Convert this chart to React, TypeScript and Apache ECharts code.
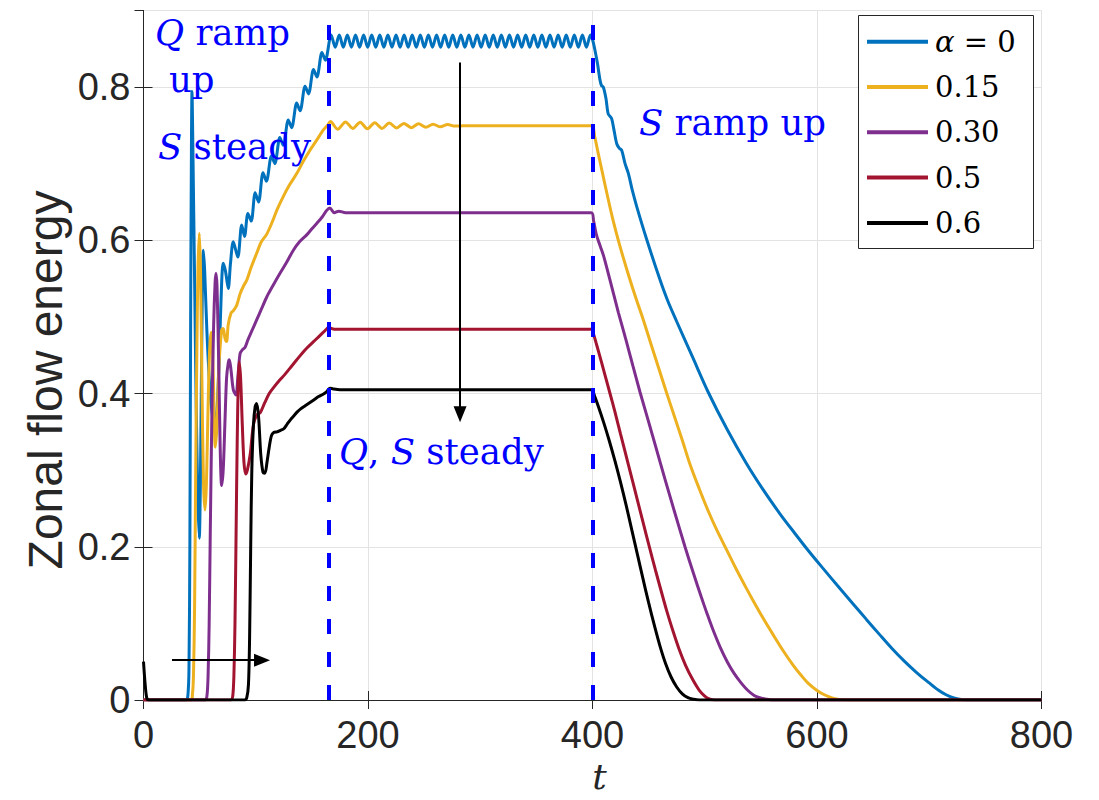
import React, { useEffect, useRef } from 'react';
import * as echarts from 'echarts';

// ---------- data ----------
const SERIES_NAMES = ['α = 0', '0.15', '0.30', '0.5', '0.6'];
const SERIES_COLORS = ['#0072BD', '#EDB120', '#7E2F8E', '#A2142F', '#000000'];
const X_MIN = 0;
const X_MAX = 800;
const X_STEP = 200;
const Y_MIN = 0;
const Y_MAX = 0.9;
const Y_STEP = 0.2;
const PHASE_LINES = [165, 400];

const alpha0: [number, number][] = [
  [0, 0], [38, 0], [39.5, 0.005], [40.5, 0.04], [41.3, 0.2], [42, 0.5], [42.7, 0.72], [43.2, 0.794],
  [44, 0.72], [45.5, 0.55], [47, 0.38], [48.5, 0.26], [49.7, 0.211], [50.8, 0.3], [52, 0.48], [53.3, 0.587],
  [54.5, 0.56], [56.5, 0.48], [59, 0.41], [61.5, 0.37], [63.5, 0.36], [65.5, 0.38], [67.5, 0.45], [69.5, 0.54],
  [71, 0.57], [73, 0.56], [75.5, 0.537], [77.5, 0.57], [80, 0.598], [84, 0.578], [87.5, 0.62], [90, 0.605],
  [93, 0.635], [96, 0.625], [99.5, 0.662], [102.5, 0.65], [106.5, 0.688], [109.5, 0.677], [114, 0.71], [117, 0.7],
  [121.5, 0.734], [124.5, 0.724], [129, 0.757], [132, 0.747], [136.5, 0.779], [139.5, 0.769], [144, 0.801],
  [147, 0.791], [151.5, 0.823], [154.5, 0.813], [159, 0.845], [162, 0.835],
  [167.2, 0.868], [170.8, 0.852], [174.4, 0.868], [178.0, 0.852], [181.6, 0.868], [185.3, 0.852], [188.9, 0.868],
  [192.5, 0.852], [196.1, 0.868], [199.7, 0.852], [203.3, 0.868], [206.9, 0.852], [210.5, 0.868], [214.1, 0.852],
  [217.7, 0.868], [221.4, 0.852], [225.0, 0.868], [228.6, 0.852], [232.2, 0.868], [235.8, 0.852], [239.4, 0.868],
  [243.0, 0.852], [246.6, 0.868], [250.2, 0.852], [253.8, 0.868], [257.5, 0.852], [261.1, 0.868], [264.7, 0.852],
  [268.3, 0.868], [271.9, 0.852], [275.5, 0.868], [279.1, 0.852], [282.7, 0.868], [286.3, 0.852], [289.9, 0.868],
  [293.6, 0.852], [297.2, 0.868], [300.8, 0.852], [304.4, 0.868], [308.0, 0.852], [311.6, 0.868], [315.2, 0.852],
  [318.8, 0.868], [322.4, 0.852], [326.0, 0.868], [329.7, 0.852], [333.3, 0.868], [336.9, 0.852], [340.5, 0.868],
  [344.1, 0.852], [347.7, 0.868], [351.3, 0.852], [354.9, 0.868], [358.5, 0.852], [362.1, 0.868], [365.8, 0.852],
  [369.4, 0.868], [373.0, 0.852], [376.6, 0.868], [380.2, 0.852], [383.8, 0.868], [387.4, 0.852], [391.0, 0.868],
  [394.6, 0.852], [398.2, 0.868],
  [400, 0.862], [402.2, 0.848], [404.5, 0.83], [406.7, 0.809], [408, 0.802], [409.6, 0.8], [412, 0.785],
  [414, 0.765], [417, 0.759], [419, 0.745], [421.6, 0.726], [424, 0.72], [426, 0.7175], [429, 0.7], [432, 0.687],
  [435.5, 0.665], [439.4, 0.644], [448.3, 0.601], [460, 0.549], [467, 0.521], [475, 0.494], [489, 0.448],
  [503, 0.402], [520, 0.353], [537, 0.309], [552, 0.2745], [567, 0.243], [580, 0.218], [592, 0.1955],
  [605, 0.1724], [618, 0.1497], [632, 0.1256], [644, 0.1052], [656, 0.085], [667, 0.0669], [678, 0.0504],
  [689, 0.0355], [700, 0.0223], [708, 0.0131], [715, 0.0068], [722, 0.0026], [730, 0.0004], [738, 0], [800, 0],
];

const alpha015: [number, number][] = [
  [0, 0], [42.5, 0], [43.5, 0.005], [44.5, 0.03], [45.5, 0.12], [46.5, 0.3], [47.5, 0.45], [48.5, 0.56],
  [49.7, 0.609], [50.8, 0.56], [52, 0.42], [53.5, 0.28], [54.8, 0.248], [56, 0.28], [57.5, 0.38], [59, 0.46],
  [60.5, 0.48], [62, 0.43], [64, 0.33], [65.5, 0.36], [67, 0.43], [69.6, 0.483], [71, 0.485], [72.6, 0.472],
  [74, 0.468], [75.5, 0.49], [78, 0.505], [80, 0.508], [83, 0.515], [86, 0.53], [89, 0.54], [92, 0.548],
  [96, 0.565], [100.8, 0.583], [105, 0.598], [109.8, 0.608], [115, 0.625], [119, 0.64], [124.5, 0.657],
  [130, 0.672], [136.5, 0.687], [142, 0.702], [148.3, 0.7175], [154, 0.73], [160.2, 0.744], [164, 0.75],
  [166.5, 0.755], [173, 0.745], [180, 0.7545], [186.5, 0.746], [193, 0.754], [199.5, 0.7455], [206, 0.7535],
  [212.5, 0.746], [219, 0.753], [225.5, 0.7465], [232, 0.7525], [238.5, 0.747], [245, 0.752], [251.5, 0.7475],
  [258, 0.7515], [264.5, 0.748], [271, 0.751], [277.5, 0.749], [285, 0.7495], [399, 0.7495],
  [402, 0.735], [405, 0.714], [409, 0.687], [413, 0.66], [418, 0.628], [424.5, 0.592], [432, 0.555],
  [439, 0.523], [445.3, 0.496], [452, 0.465], [459, 0.433], [466, 0.401], [473, 0.37], [480, 0.339],
  [487, 0.307], [495, 0.276], [503, 0.247], [511, 0.221], [519.5, 0.196], [528, 0.171], [537, 0.146],
  [546, 0.122], [553.5, 0.103], [561, 0.085], [570, 0.064], [579, 0.045], [586, 0.032], [592, 0.022],
  [600, 0.0125], [607, 0.0065], [614, 0.0025], [620, 0.0006], [627, 0], [800, 0],
];

const alpha030: [number, number][] = [
  [0, 0], [55, 0], [56.5, 0.005], [57.5, 0.03], [58.5, 0.1], [59.5, 0.22], [61, 0.38], [62.5, 0.49],
  [63.8, 0.545], [64.6, 0.557], [65.5, 0.54], [67, 0.44], [68.3, 0.33], [69.6, 0.28], [71, 0.3], [72.5, 0.36],
  [74, 0.42], [75.5, 0.44], [76.5, 0.444], [78, 0.43], [80, 0.405], [82.4, 0.398], [84, 0.42], [86, 0.452],
  [88, 0.457], [90.4, 0.46], [93, 0.47], [96, 0.48], [100.8, 0.496], [105, 0.51], [109.8, 0.526], [115, 0.54],
  [121.6, 0.557], [127, 0.57], [133.5, 0.587], [139, 0.598], [145.4, 0.607], [150, 0.615], [154.3, 0.622],
  [159, 0.63], [163.2, 0.639], [166, 0.642], [170, 0.636], [174, 0.638], [180, 0.636], [399, 0.636],
  [401, 0.625], [403.7, 0.606], [407, 0.592], [410, 0.579], [415.6, 0.548], [423, 0.506], [430, 0.469],
  [436, 0.436], [442.3, 0.402], [450, 0.363], [457, 0.327], [465, 0.286], [473, 0.246], [482.4, 0.2],
  [490, 0.165], [497, 0.134], [502, 0.113], [507, 0.093], [514, 0.068], [520, 0.05], [526, 0.035],
  [531.5, 0.024], [538, 0.013], [544, 0.006], [549, 0.003], [555, 0.001], [560, 0], [800, 0],
];

const alpha05: [number, number][] = [
  [0, 0], [78, 0], [79.5, 0.005], [80.5, 0.03], [81.5, 0.1], [82.5, 0.22], [83.5, 0.34], [84.5, 0.42],
  [85.3, 0.441], [86.5, 0.42], [88, 0.36], [89.5, 0.31], [91, 0.295], [92.5, 0.3], [95, 0.32], [98, 0.36],
  [101, 0.372], [104, 0.375], [108, 0.388], [112, 0.4], [116, 0.408], [121, 0.417], [126, 0.425], [131, 0.434],
  [136, 0.443], [141, 0.452], [146, 0.46], [151, 0.467], [156, 0.474], [161, 0.481], [165, 0.486], [170, 0.484],
  [399, 0.484], [401, 0.477], [404, 0.462], [408, 0.441], [415.6, 0.4], [420, 0.376], [425, 0.347],
  [432, 0.307], [440, 0.261], [445, 0.232], [451, 0.198], [456, 0.17], [461.6, 0.14], [466, 0.117],
  [471.7, 0.09], [477, 0.067], [483, 0.045], [489.5, 0.026], [495, 0.013], [500, 0.005], [504, 0.0015],
  [509, 0], [800, 0],
];

const alpha06: [number, number][] = [
  [0, 0.05], [1.5, 0.02], [3, 0.002], [5, 0], [90, 0], [92, 0.003], [93.5, 0.02], [94.5, 0.08], [95.5, 0.2],
  [96.5, 0.3], [98, 0.36], [99.5, 0.383], [100.8, 0.387], [102.5, 0.37], [104.5, 0.32], [106.5, 0.297],
  [108.2, 0.296], [110, 0.31], [112, 0.33], [114, 0.345], [116, 0.349], [119, 0.35], [122, 0.352], [125, 0.354],
  [128, 0.36], [131, 0.366], [134, 0.371], [137, 0.376], [140, 0.38], [144, 0.384], [148, 0.388], [152, 0.392],
  [156, 0.396], [160, 0.399], [163, 0.402], [166, 0.407], [169, 0.406], [175, 0.405], [399, 0.405],
  [402, 0.396], [405, 0.384], [410, 0.362], [415, 0.338], [420, 0.312], [425, 0.284], [430, 0.254],
  [435, 0.222], [440, 0.19], [445, 0.158], [450, 0.127], [455, 0.098], [460, 0.071], [465, 0.048],
  [470, 0.03], [475, 0.017], [480, 0.008], [485, 0.003], [490, 0.001], [495, 0], [800, 0],
];

const SERIES_DATA = [alpha0, alpha015, alpha030, alpha05, alpha06];

// annotation arrows (data coordinates)
const ARROW_DOWN: [[number, number], [number, number]] = [[282, 0.832], [282, 0.373]];
const ARROW_RIGHT: [[number, number], [number, number]] = [[25.4, 0.052], [105.6, 0.052]];

const AXIS_COLOR = '#262626';
const GRID_COLOR = '#e3e3e3';
const TEXT_BLUE = '#0000ff';
const SERIF = "'DejaVu Serif', serif";
const SANS = "'Liberation Sans', Arial, sans-serif";

export default function App() {
  const ref = useRef<HTMLDivElement>(null);

  useEffect(() => {
    if (!ref.current) return;
    const chart = echarts.init(ref.current, null, { renderer: 'svg' });

    const grid = { left: 143.5, width: 898, top: 10.4, height: 689.6 };

    const tickStyle = { inside: true, length: 9, lineStyle: { color: AXIS_COLOR, width: 1 } };
    const axisLineStyle = { show: true, lineStyle: { color: AXIS_COLOR, width: 1 } };

    const series: any[] = SERIES_DATA.map((d, i) => ({
      name: SERIES_NAMES[i],
      type: 'line',
      data: d,
      showSymbol: false,
      symbol: 'none',
      smooth: 0.3,
      lineStyle: { color: SERIES_COLORS[i], width: 3 },
      itemStyle: { color: SERIES_COLORS[i] },
      z: 2 + i * 0.01,
    }));

    series.push({
      name: 'annotations',
      type: 'line',
      data: [],
      silent: true,
      markLine: {
        silent: true,
        symbol: ['none', 'none'],
        label: { show: false },
        lineStyle: { color: TEXT_BLUE, width: 4, type: [15, 18] },
        data: PHASE_LINES.map((x) => ({ xAxis: x })),
        z: 5,
      },
    });
    series.push({
      name: 'arrows',
      type: 'line',
      data: [],
      silent: true,
      markLine: {
        silent: true,
        symbol: ['none', 'triangle'],
        symbolSize: [13, 16],
        label: { show: false },
        lineStyle: { color: '#000', width: 2, type: 'solid' },
        itemStyle: { color: '#000' },
        data: [
          [{ coord: ARROW_DOWN[0] }, { coord: ARROW_DOWN[1] }],
          [{ coord: ARROW_RIGHT[0] }, { coord: ARROW_RIGHT[1] }],
        ],
        z: 6,
      },
    });

    const italicRich = (size: number) => ({
      i: { fontStyle: 'italic', fontFamily: SERIF, fontSize: size, fill: TEXT_BLUE, color: TEXT_BLUE },
    });

    const blueText = (text: string, x: number, y: number) => ({
      type: 'text',
      x,
      y,
      z: 10,
      style: {
        text,
        fill: TEXT_BLUE,
        fontFamily: SERIF,
        fontSize: 35.5,
        align: 'left',
        verticalAlign: 'middle',
        rich: italicRich(35.5),
      },
    });

    const option: any = {
      animation: false,
      backgroundColor: '#ffffff',
      grid,
      xAxis: [
        {
          type: 'value',
          min: X_MIN,
          max: X_MAX,
          interval: X_STEP,
          position: 'bottom',
          axisLine: axisLineStyle,
          axisTick: tickStyle,
          axisLabel: { fontFamily: SANS, fontSize: 38, color: AXIS_COLOR, margin: 16 },
          splitLine: { show: true, lineStyle: { color: GRID_COLOR, width: 1 } },
          name: 't',
          nameLocation: 'middle',
          nameGap: 54,
          nameTextStyle: { fontFamily: SERIF, fontStyle: 'italic', fontSize: 36, color: AXIS_COLOR, padding: [0, 0, 0, 14] },
        },
        {
          type: 'value',
          min: X_MIN,
          max: X_MAX,
          interval: X_STEP,
          position: 'top',
          axisLine: axisLineStyle,
          axisTick: tickStyle,
          axisLabel: { show: false },
          splitLine: { show: false },
        },
      ],
      yAxis: [
        {
          type: 'value',
          min: Y_MIN,
          max: Y_MAX,
          interval: Y_STEP,
          position: 'left',
          axisLine: axisLineStyle,
          axisTick: tickStyle,
          axisLabel: {
            fontFamily: SANS,
            fontSize: 38,
            color: AXIS_COLOR,
            margin: 13,
            showMaxLabel: false,
            formatter: (v: number) => (v === 0 ? '0' : v.toFixed(1)),
          },
          splitLine: { show: true, lineStyle: { color: GRID_COLOR, width: 1 } },
        },
        {
          type: 'value',
          min: Y_MIN,
          max: Y_MAX,
          interval: Y_STEP,
          position: 'right',
          axisLine: axisLineStyle,
          axisTick: tickStyle,
          axisLabel: { show: false },
          splitLine: { show: false },
        },
      ],
      legend: {
        orient: 'vertical',
        left: 867,
        top: 26.7,
        padding: 0,
        itemGap: 15.3,
        itemWidth: 61,
        itemHeight: 4,
        icon: 'rect',
        data: SERIES_NAMES,
        textStyle: {
          fontFamily: SERIF,
          fontSize: 29,
          lineHeight: 30,
          color: '#000',
          padding: [0, 0, 0, 2],
          rich: {
            i: { fontStyle: 'italic', fontFamily: SERIF, fontSize: 29, color: '#000' },
          },
        },
        formatter: (name: string) => (name === SERIES_NAMES[0] ? '{i|α} = 0' : name),
        z: 12,
      },
      graphic: [
        {
          type: 'rect',
          z: 11,
          shape: { x: 858.5, y: 15.5, width: 175, height: 233 },
          style: { fill: '#ffffff', stroke: AXIS_COLOR, lineWidth: 1 },
        },
        blueText('{i|Q} ramp', 155, 32),
        blueText('up', 169, 79),
        blueText('{i|S} steady', 158, 146),
        blueText('{i|Q}, {i|S} steady', 339, 451),
        blueText('{i|S} ramp up', 639, 122),
        {
          type: 'text',
          x: 45,
          y: 380,
          rotation: Math.PI / 2,
          z: 10,
          style: {
            text: 'Zonal flow energy',
            fill: AXIS_COLOR,
            fontFamily: SANS,
            fontSize: 48,
            align: 'center',
            verticalAlign: 'middle',
          },
        },
      ],
      series,
    };

    chart.setOption(option);
    return () => chart.dispose();
  }, []);

  return (
    <div
      ref={ref}
      style={{ position: 'fixed', left: 0, top: 0, width: 1099, height: 800, background: '#fff' }}
    />
  );
}
